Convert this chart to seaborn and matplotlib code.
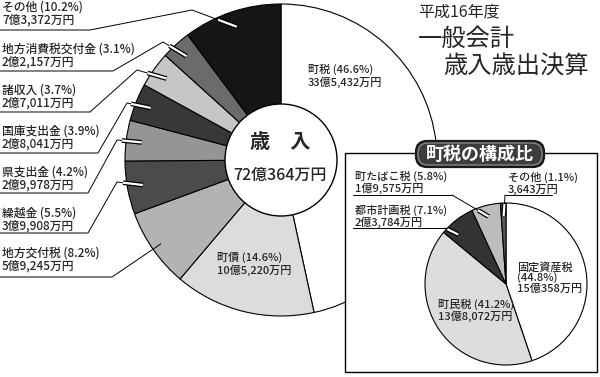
import matplotlib
matplotlib.use("Agg")
import matplotlib.pyplot as plt
import matplotlib.patheffects as pe
from matplotlib.patches import Circle, Rectangle, FancyBboxPatch
import numpy as np
import seaborn as sns

sns.set_theme(style="white")
plt.rcParams["font.family"] = ["Noto Sans CJK JP", "DejaVu Sans"]
plt.rcParams["font.weight"] = "medium"

# 歳入 (clockwise from the top)
revenue_names = ["町税", "町債", "地方交付税", "繰越金", "県支出金",
                 "国庫支出金", "諸収入", "地方消費税交付金", "その他"]
revenue_pct = [46.6, 14.6, 8.2, 5.5, 4.2, 3.9, 3.7, 3.1, 10.2]
revenue_amount = ["33億5,432万円", "10億5,220万円", "5億9,245万円", "3億9,908万円",
                  "2億9,978万円", "2億8,041万円", "2億7,011万円", "2億2,157万円",
                  "7億3,372万円"]
revenue_colors = ["#ffffff", "#dcdcdc", "#b3b3b3", "#4b4b4b", "#959595",
                  "#383838", "#c6c6c6", "#6b6b6b", "#151515"]
revenue_total = "72億364万円"

# 町税の構成比 (clockwise from the top)
tax_names = ["固定資産税", "町民税", "都市計画税", "町たばこ税", "その他"]
tax_pct = [44.8, 41.2, 7.1, 5.8, 1.1]
tax_amount = ["15億358万円", "13億8,072万円", "2億3,784万円", "1億9,575万円", "3,643万円"]
tax_colors = ["#ffffff", "#dddddd", "#333333", "#bdbdbd", "#5a5a5a"]

# layout, in pixels (y downwards)
MAIN_C, MAIN_R, HOLE_R = (281, 160), 156, 56
TAX_C, TAX_R = (506, 284), 81

# index, first-line y, underline y, underline x0, x1, elbow, tip radius frac
MAIN_LEADERS = [
    (8, 7, 30, 0, 90, (192, 10), 0.9),
    (7, 49, 71, 0, 113, (163, 42), 0.9),
    (6, 90, 112, 0, 90, (137, 70), 0.9),
    (5, 131, 153, 0, 98, (127, 103), 0.9),
    (4, 172, 193, 0, 88, (117, 140), 0.9),
    (3, 213, 233, 0, 88, (117, 182), 0.9),
    (2, 253, 277, 0, 112, None, 0.94),
]
# index, text x, first-line y, underline y, x0, x1, start at left end, pos in wedge, radius frac
TAX_LEADERS = [
    (3, 355, 176, 195, 353, 452, False, 0.5, 0.86),
    (2, 355, 210, 228, 353, 445, False, 0.25, 0.85),
    (4, 508, 177, 195, 505, 552, True, 0.5, 0.84),
]


def wedge_point(wedge, center, radius, pos=0.5, frac=0.9):
    ang = np.deg2rad(wedge.theta1 + pos * (wedge.theta2 - wedge.theta1))
    return center[0] + frac * radius * np.cos(ang), center[1] + frac * radius * np.sin(ang)


def white_tip(ax, p0, p1, length, z):
    d = np.array(p1) - np.array(p0)
    n = np.hypot(*d)
    start = np.array(p1) - d / n * min(length, n)
    ax.plot([start[0], p1[0]], [start[1], p1[1]], color="white", lw=1.6,
            solid_capstyle="butt", zorder=z,
            path_effects=[pe.Stroke(linewidth=3.4, foreground="black"), pe.Normal()])


fig = plt.figure(figsize=(6, 3.77), dpi=100)
ax = fig.add_axes([0, 0, 1, 1])

wedges, _ = ax.pie(revenue_pct, colors=revenue_colors, startangle=-90, counterclock=True,
                   center=MAIN_C, radius=MAIN_R,
                   wedgeprops=dict(edgecolor="black", linewidth=0.8))
ax.add_patch(Circle(MAIN_C, HOLE_R, facecolor="white", edgecolor="black", lw=1.0, zorder=3))

for idx, y1, uy, x0, x1, elbow, frac in MAIN_LEADERS:
    tip = wedge_point(wedges[idx], MAIN_C, MAIN_R, frac=frac)
    ax.text(2, y1, f"{revenue_names[idx]} ({revenue_pct[idx]}%)", fontsize=8.5,
            ha="left", va="center", zorder=5)
    ax.text(2, y1 + 13, revenue_amount[idx], fontsize=8.5, ha="left", va="center", zorder=5)
    pts = [(x0, uy), (x1, uy)] + ([elbow] if elbow else []) + [tip]
    ax.plot([p[0] for p in pts], [p[1] for p in pts], color="black", lw=0.7, zorder=4)
    if elbow:
        white_tip(ax, elbow, tip, 20, 4)

ax.text(308, 69, f"{revenue_names[0]} ({revenue_pct[0]}%)", fontsize=8, ha="left", va="center")
ax.text(308, 82, revenue_amount[0], fontsize=8, ha="left", va="center")
ax.text(217, 257, f"{revenue_names[1]} ({revenue_pct[1]}%)", fontsize=8, ha="left", va="center")
ax.text(217, 270, revenue_amount[1], fontsize=8, ha="left", va="center")

ax.text(MAIN_C[0] - 1, 142, "歳　入", fontsize=14.5, fontweight="bold",
        ha="center", va="center", zorder=5)
ax.text(MAIN_C[0] - 1, 175, revenue_total, fontsize=11.5, ha="center", va="center", zorder=5)

ax.text(418, 12, "平成16年度", fontsize=11.5, fontweight="normal", ha="left", va="center")
ax.text(418, 39, "一般会計", fontsize=17.5, fontweight="normal", ha="left", va="center")
ax.text(443, 67, "歳入歳出決算", fontsize=17.5, fontweight="normal", ha="left", va="center")

# inset box
ax.add_patch(Rectangle((345, 153), 252, 219, facecolor="white", edgecolor="black",
                       lw=1.0, zorder=6))
tax_wedges, _ = ax.pie(tax_pct, colors=tax_colors, startangle=-90, counterclock=True,
                       center=TAX_C, radius=TAX_R,
                       wedgeprops=dict(edgecolor="black", linewidth=0.8))
for w in tax_wedges:
    w.set_zorder(7)

for idx, tx, y1, uy, x0, x1, from_left, pos, frac in TAX_LEADERS:
    tip = wedge_point(tax_wedges[idx], TAX_C, TAX_R, pos=pos, frac=frac)
    ax.text(tx, y1, f"{tax_names[idx]} ({tax_pct[idx]}%)", fontsize=8,
            ha="left", va="center", zorder=9)
    ax.text(tx, y1 + 12, tax_amount[idx], fontsize=8, ha="left", va="center", zorder=9)
    start = (x0, uy) if from_left else (x1, uy)
    ax.plot([x0, x1], [uy, uy], color="black", lw=0.7, zorder=8)
    ax.plot([start[0], tip[0]], [start[1], tip[1]], color="black", lw=0.7, zorder=8)
    white_tip(ax, start, tip, 12, 8)

ax.text(517, 267, tax_names[0], fontsize=8, ha="left", va="center", zorder=9)
ax.text(517, 278, f"({tax_pct[0]}%)", fontsize=8, ha="left", va="center", zorder=9)
ax.text(517, 289, tax_amount[0], fontsize=8, ha="left", va="center", zorder=9)
ax.text(438, 304, f"{tax_names[1]} ({tax_pct[1]}%)", fontsize=8, ha="left", va="center", zorder=9)
ax.text(438, 316, tax_amount[1], fontsize=8, ha="left", va="center", zorder=9)

# title badge
ax.add_patch(FancyBboxPatch((416, 141), 128, 26, boxstyle="round,pad=0,rounding_size=11",
                            facecolor="#3d3d3d", edgecolor="#1a1a1a", lw=1.6, zorder=10))
ax.add_patch(FancyBboxPatch((418, 143), 124, 22, boxstyle="round,pad=0,rounding_size=10",
                            facecolor="none", edgecolor="#a0a0a0", lw=0.7, zorder=10))
ax.text(480, 154, "町税の構成比", fontsize=13, fontweight="bold", color="white",
        ha="center", va="center", zorder=11)

ax.set_xlim(0, 600)
ax.set_ylim(377, 0)
ax.set_aspect("auto")
ax.axis("off")
fig.savefig("out.png", dpi=100, facecolor="white")
